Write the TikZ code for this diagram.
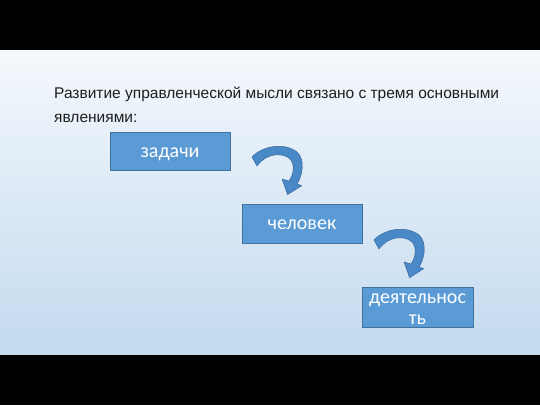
\documentclass[tikz,border=0pt]{standalone}
\usepackage{fontspec}
\setmainfont{Liberation Sans}
\newfontfamily\boxfont{Carlito}
\definecolor{boxfill}{RGB}{91,155,213}
\definecolor{boxline}{RGB}{65,113,156}
\definecolor{arrfill}{RGB}{74,137,200}
\definecolor{arrline}{RGB}{58,105,155}
\definecolor{bgtop}{RGB}{244,248,252}
\definecolor{bgbot}{RGB}{195,218,239}
\definecolor{titlecol}{RGB}{30,30,30}
\begin{document}
\begin{tikzpicture}[x=1pt,y=-1pt,
  box/.style={draw=boxline, line width=0.6pt, fill=boxfill, inner sep=0pt},
  boxtext/.style={text=white, font=\boxfont\fontsize{20}{22}\selectfont, inner sep=0pt, anchor=base},
  titletext/.style={text=titlecol, font=\fontsize{15.5}{19}\selectfont, inner sep=0pt, anchor=base west},
  blockarrow/.style={fill=arrfill, draw=arrline, line width=0.5pt, line join=round}]
\useasboundingbox (0,0) rectangle (540,405);
\fill[black] (0,0) rectangle (540,405);
\shade[top color=bgtop, bottom color=bgbot] (0,50) rectangle (540,354);

\node[titletext] (t1) at (54,98) {Развитие управленческой мысли связано с тремя основными};
\node[titletext] (t2) at (54,122) {явлениями:};

\node[box, minimum width=120pt, minimum height=38pt] (b1) at (170,151) {};
\node[boxtext] (l1) at (170,157) {задачи};
\node[box, minimum width=120pt, minimum height=39pt] (b2) at (302,223.5) {};
\node[boxtext] (l2) at (302,229.5) {человек};
\node[box, minimum width=111pt, minimum height=40pt] (b3) at (417.5,307) {};
\node[boxtext] (l3a) at (417.5,303.5) {деятельнос};
\node[boxtext] (l3b) at (417.5,324.5) {ть};

\foreach \dx/\dy in {0/0,122/83}{
\begin{scope}[shift={(\dx,\dy)}]
\path[blockarrow] (252,157) .. controls (262,146) and (284,142) .. (297,152)
  .. controls (305,159) and (303,175) .. (297,184) -- (301.7,185.7) -- (287.6,194.6)
  -- (282,179) -- (289,181) .. controls (294,174) and (295,164) .. (290,159)
  .. controls (283,152) and (266,153) .. (257,166) -- cycle;
\end{scope}}
\end{tikzpicture}
\end{document}
